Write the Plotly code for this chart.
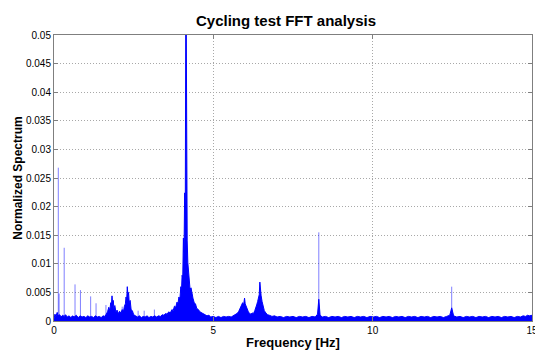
import plotly.graph_objects as go

# Dense spectrum envelope (Hz, normalized amplitude)
spectrum_freq = [
    0.00, 0.03, 0.06, 0.10, 0.13, 0.18, 0.22, 0.27, 0.32, 0.36, 0.42, 0.47, 0.53, 0.58, 0.63,
    0.70, 0.76, 0.82, 0.88, 0.94, 1.00, 1.06, 1.12, 1.18, 1.24, 1.30, 1.36, 1.42, 1.48, 1.54,
    1.60, 1.64, 1.68, 1.72, 1.75, 1.78, 1.80, 1.82, 1.84, 1.86, 1.88, 1.91, 1.94, 1.98, 2.02,
    2.06, 2.10, 2.14, 2.18, 2.21, 2.24, 2.26, 2.28, 2.30, 2.32, 2.34, 2.36, 2.39, 2.42, 2.46,
    2.50, 2.56, 2.62, 2.68, 2.74, 2.80, 2.86, 2.92, 2.98, 3.04, 3.10, 3.16, 3.22, 3.28, 3.34,
    3.40, 3.45, 3.50, 3.55, 3.60, 3.65, 3.70, 3.74, 3.78, 3.82, 3.86, 3.89, 3.92, 3.95, 3.98,
    4.00, 4.02, 4.04, 4.06, 4.08, 4.10, 4.12, 4.14, 4.16, 4.18, 4.20, 4.22, 4.24, 4.27, 4.30,
    4.33, 4.36, 4.40, 4.44, 4.48, 4.53, 4.58, 4.63, 4.68, 4.74, 4.80, 4.86, 4.92, 5.00, 5.08,
    5.16, 5.24, 5.32, 5.40, 5.48, 5.56, 5.62, 5.68, 5.74, 5.79, 5.84, 5.88, 5.92, 5.95, 5.98,
    6.00, 6.03, 6.06, 6.10, 6.14, 6.18, 6.22, 6.26, 6.30, 6.33, 6.36, 6.39, 6.42, 6.44, 6.46,
    6.48, 6.50, 6.53, 6.56, 6.60, 6.65, 6.70, 6.76, 6.84, 6.92, 7.00, 7.10, 7.20, 7.30, 7.40,
    7.50, 7.60, 7.70, 7.80, 7.90, 8.00, 8.10, 8.20, 8.27, 8.31, 8.35, 8.42, 8.52, 8.62, 8.72,
    8.82, 8.92, 9.02, 9.12, 9.22, 9.32, 9.42, 9.52, 9.62, 9.72, 9.82, 9.92, 10.02, 10.12, 10.22,
    10.32, 10.42, 10.52, 10.62, 10.72, 10.82, 10.92, 11.02, 11.12, 11.22, 11.32, 11.42, 11.52, 11.62, 11.72,
    11.82, 11.92, 12.02, 12.12, 12.22, 12.32, 12.42, 12.48, 12.54, 12.64, 12.74, 12.84, 12.94, 13.04, 13.14,
    13.24, 13.34, 13.44, 13.54, 13.64, 13.74, 13.84, 13.94, 14.04, 14.14, 14.24, 14.34, 14.44, 14.54, 14.64,
    14.72, 14.80, 14.86, 14.92, 15.00,
]
spectrum_amp = [
    0.0004, 0.0012, 0.0008, 0.0015, 0.0009, 0.0011, 0.0007, 0.0010, 0.0008, 0.0011, 0.0007, 0.0009, 0.0006, 0.0009, 0.0007,
    0.0010, 0.0006, 0.0009, 0.0007, 0.0008, 0.0006, 0.0009, 0.0007, 0.0008, 0.0006, 0.0009, 0.0007, 0.0008, 0.0006, 0.0009,
    0.0008, 0.0012, 0.0016, 0.0024, 0.0018, 0.0032, 0.0026, 0.0044, 0.0030, 0.0036, 0.0022, 0.0027, 0.0016, 0.0019, 0.0013,
    0.0017, 0.0014, 0.0020, 0.0017, 0.0026, 0.0030, 0.0042, 0.0036, 0.0060, 0.0045, 0.0050, 0.0032, 0.0036, 0.0020, 0.0018,
    0.0011, 0.0009, 0.0007, 0.0009, 0.0006, 0.0008, 0.0007, 0.0009, 0.0006, 0.0008, 0.0007, 0.0009, 0.0007, 0.0009, 0.0008,
    0.0011, 0.0010, 0.0013, 0.0012, 0.0016, 0.0014, 0.0020, 0.0018, 0.0026, 0.0024, 0.0033, 0.0030, 0.0042, 0.0038, 0.0060,
    0.0052, 0.0080, 0.0075, 0.0145, 0.0120, 0.0224, 0.0200, 0.0650, 0.0177, 0.0140, 0.0102, 0.0085, 0.0072, 0.0055, 0.0058,
    0.0045, 0.0040, 0.0032, 0.0030, 0.0022, 0.0020, 0.0016, 0.0014, 0.0012, 0.0011, 0.0009, 0.0010, 0.0007, 0.0008, 0.0006,
    0.0008, 0.0006, 0.0008, 0.0007, 0.0008, 0.0007, 0.0009, 0.0010, 0.0013, 0.0016, 0.0022, 0.0026, 0.0032, 0.0028, 0.0040,
    0.0030, 0.0026, 0.0020, 0.0016, 0.0013, 0.0012, 0.0014, 0.0013, 0.0018, 0.0022, 0.0028, 0.0034, 0.0040, 0.0046, 0.0068,
    0.0050, 0.0044, 0.0034, 0.0026, 0.0018, 0.0014, 0.0011, 0.0010, 0.0008, 0.0009, 0.0007, 0.0008, 0.0006, 0.0008, 0.0007,
    0.0008, 0.0006, 0.0008, 0.0007, 0.0008, 0.0006, 0.0008, 0.0007, 0.0012, 0.0038, 0.0010, 0.0007, 0.0008, 0.0006, 0.0008,
    0.0007, 0.0008, 0.0006, 0.0008, 0.0007, 0.0008, 0.0006, 0.0008, 0.0007, 0.0008, 0.0006, 0.0008, 0.0007, 0.0008, 0.0006,
    0.0008, 0.0007, 0.0008, 0.0006, 0.0008, 0.0007, 0.0008, 0.0006, 0.0008, 0.0007, 0.0008, 0.0006, 0.0008, 0.0007, 0.0008,
    0.0006, 0.0008, 0.0007, 0.0008, 0.0006, 0.0008, 0.0010, 0.0023, 0.0009, 0.0007, 0.0008, 0.0006, 0.0008, 0.0007, 0.0008,
    0.0006, 0.0008, 0.0007, 0.0008, 0.0006, 0.0008, 0.0007, 0.0008, 0.0006, 0.0008, 0.0007, 0.0008, 0.0006, 0.0008, 0.0007,
    0.0009, 0.0008, 0.0010, 0.0009, 0.0010,
]

# Narrow (thin, lighter-looking) spectral lines
spike_freq = [0.135, 0.16, 0.32, 0.66, 0.83, 1.15, 1.32, 1.63, 2.14, 2.64, 2.83, 3.15, 8.31, 12.48]
spike_amp = [0.0268, 0.0048, 0.0128, 0.0064, 0.0054, 0.0043, 0.0031, 0.0028, 0.0025, 0.0018, 0.0018, 0.0020, 0.0155, 0.0060]

y_tick_vals = [0, 0.005, 0.01, 0.015, 0.02, 0.025, 0.03, 0.035, 0.04, 0.045, 0.05]
y_tick_text = ["0", "0.005", "0.01", "0.015", "0.02", "0.025", "0.03", "0.035", "0.04", "0.045", "0.05"]
x_tick_vals = [0, 5, 10, 15]
x_tick_text = ["0", "5", "10", "15"]

spike_x, spike_y = [], []
for f, a in zip(spike_freq, spike_amp):
    spike_x += [f, f, None]
    spike_y += [0, a, None]

fig = go.Figure()
fig.add_trace(go.Scatter(
    x=spectrum_freq, y=spectrum_amp, mode="lines",
    line=dict(color="#0000FF", width=1), fill="tozeroy", fillcolor="#0000FF",
    hoverinfo="skip", showlegend=False,
))
fig.add_trace(go.Scatter(
    x=spike_x, y=spike_y, mode="lines",
    line=dict(color="rgba(0,0,255,0.5)", width=1),
    hoverinfo="skip", showlegend=False,
))

FONT = "Liberation Sans, Arial, sans-serif"
axis_font = dict(family=FONT, size=10, color="#000000")
grid_dash = "1px,2px"
fig.update_layout(
    width=535, height=350,
    margin=dict(l=54, r=3, t=35, b=29, autoexpand=False),
    paper_bgcolor="white", plot_bgcolor="white",
    title=dict(text="<b>Cycling test FFT analysis</b>", x=286 / 535, xanchor="center",
               y=1 - 21 / 350, yanchor="middle",
               font=dict(family=FONT, size=15, color="#000000")),
    font=axis_font,
)
fig.update_xaxes(
    range=[0, 15], tickvals=x_tick_vals, ticktext=x_tick_text,
    showgrid=True, gridcolor="#a8a8a8", griddash=grid_dash, gridwidth=1,
    showline=True, linecolor="#7f7f7f", linewidth=1, mirror="ticks",
    ticks="inside", ticklen=4, tickcolor="#7f7f7f", zeroline=False,
    ticklabeloverflow="allow", automargin=False,
    title=dict(text="<b>Frequency [Hz]</b>", standoff=3,
               font=dict(family=FONT, size=13, color="#000000")),
    tickfont=axis_font,
)
fig.update_yaxes(
    range=[0, 0.05], tickvals=y_tick_vals, ticktext=y_tick_text,
    showgrid=True, gridcolor="#a8a8a8", griddash=grid_dash, gridwidth=1,
    showline=True, linecolor="#7f7f7f", linewidth=1, mirror="ticks",
    ticks="inside", ticklen=4, tickcolor="#7f7f7f", zeroline=False,
    automargin=False,
    title=dict(text="<b>Normalized Spectrum</b>", standoff=0,
               font=dict(family=FONT, size=12, color="#000000")),
    tickfont=axis_font,
)

fig.write_html("out.html")
